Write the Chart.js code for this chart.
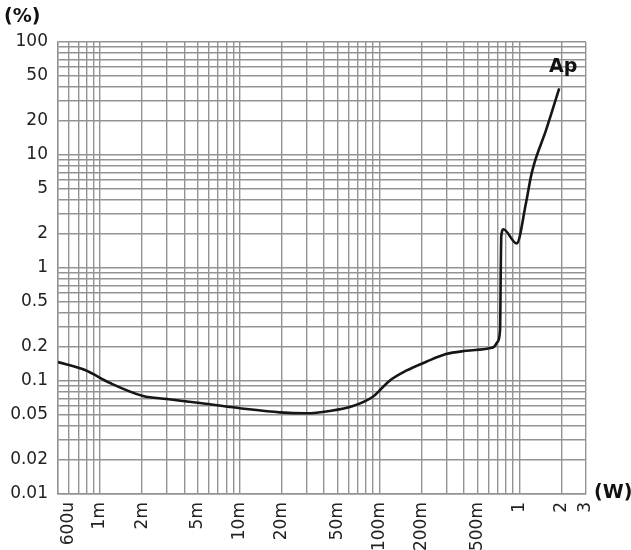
<!DOCTYPE html>
<html>
<head>
<meta charset="utf-8">
<script src="https://cdn.jsdelivr.net/npm/chart.js@4/dist/chart.umd.min.js"></script>
<style>
  html, body { margin: 0; padding: 0; background: #fff; }
  #wrap { width: 631px; height: 550px; position: relative; }
</style>
</head>
<body>
<div id="wrap"><canvas id="thdChart"></canvas></div>
<script>
// --- data ---
const powerW = [0.0005, 0.00078, 0.00118, 0.00203, 0.0030, 0.00518, 0.0112, 0.0193, 0.0299, 0.0439,
    0.0645, 0.0895, 0.118, 0.155, 0.216, 0.299, 0.416, 0.611, 0.663, 0.700, 0.728, 0.738, 0.743,
    0.769, 0.957, 1.116, 1.21, 1.28, 1.553, 1.93];
const thdPct = [0.147, 0.125, 0.096, 0.0737, 0.0693, 0.0639, 0.0565, 0.0528, 0.0518, 0.0543,
    0.0601, 0.0726, 0.1007, 0.1233, 0.148, 0.173, 0.185, 0.195, 0.202, 0.223, 0.283, 1.18, 1.92,
    2.20, 1.65, 3.76, 6.43, 8.45, 16.6, 38.9];

const xTickValues = [0.0006, 0.001, 0.002, 0.005, 0.01, 0.02, 0.05, 0.1, 0.2, 0.5, 1, 2, 3];
const xTickLabels = ['600u', '1m', '2m', '5m', '10m', '20m', '50m', '100m', '200m', '500m', '1', '2', '3'];
const yTickValues = [0.01, 0.02, 0.05, 0.1, 0.2, 0.5, 1, 2, 5, 10, 20, 50, 100];
const yTickLabels = ['0.01', '0.02', '0.05', '0.1', '0.2', '0.5', '1', '2', '5', '10', '20', '50', '100'];
const curveName = 'Ap';

const xMin = 0.0005, xMax = 3;
const yMin = 0.01, yMax = 100;

// grid at every 1..9 multiple inside the range
function logGrid(min, max) {
    const out = [];
    for (let e = Math.floor(Math.log10(min)); e <= Math.ceil(Math.log10(max)); e++) {
        for (let m = 1; m <= 9; m++) {
            const v = Number((m * Math.pow(10, e)).toPrecision(3));
            if (v >= min * 0.9999 && v <= max * 1.0001) out.push(v);
        }
    }
    return out;
}

function labelFor(v, values, labels) {
    const i = values.findIndex(t => Math.abs(v - t) / t < 1e-6);
    return i >= 0 ? labels[i] : '';
}

const gridColor = '#939393';
const textFont = { family: 'DejaVu Sans', size: 17 };

// axis titles + curve name
const textPlugin = {
    id: 'texts',
    afterDraw(chart) {
        const ctx = chart.ctx;
        const xs = chart.scales.x, ys = chart.scales.y;
        ctx.save();
        ctx.fillStyle = '#111';
        ctx.font = 'bold 19px DejaVu Sans';
        ctx.textBaseline = 'middle';
        ctx.textAlign = 'left';
        ctx.fillText('(%)', 4, 17);
        ctx.fillText('(W)', 594, 493);
        // name beside the end of the curve
        const n = powerW.length - 1;
        const px = xs.getPixelForValue(powerW[n]);
        const py = ys.getPixelForValue(thdPct[n]);
        ctx.font = 'bold 19px DejaVu Sans';
        ctx.textAlign = 'center';
        ctx.fillText(curveName, px + 4, py - 21);
        ctx.restore();
    }
};

new Chart(document.getElementById('thdChart'), {
    type: 'line',
    data: {
        datasets: [{
            label: curveName,
            data: powerW.map((w, i) => ({ x: w, y: thdPct[i] })),
            borderColor: '#161616',
            borderWidth: 2.6,
            pointRadius: 0,
            fill: false,
            cubicInterpolationMode: 'monotone'
        }]
    },
    options: {
        responsive: true,
        maintainAspectRatio: false,
        animation: false,
        layout: { padding: { left: 0, right: 45, top: 42, bottom: 0 } },
        plugins: { legend: { display: false }, tooltip: { enabled: false } },
        scales: {
            x: {
                type: 'logarithmic',
                min: xMin,
                max: xMax,
                afterBuildTicks: s => { s.ticks = logGrid(xMin, xMax).map(v => ({ value: v })); },
                afterFit: s => { s.height = 56; },
                grid: { color: gridColor, lineWidth: 1.4, drawTicks: false },
                border: { color: gridColor, width: 1.4 },
                ticks: {
                    autoSkip: false,
                    minRotation: 90,
                    maxRotation: 90,
                    padding: 8,
                    color: '#222',
                    font: textFont,
                    callback: v => labelFor(v, xTickValues, xTickLabels)
                }
            },
            y: {
                type: 'logarithmic',
                min: yMin,
                max: yMax,
                afterBuildTicks: s => { s.ticks = logGrid(yMin, yMax).map(v => ({ value: v })); },
                afterFit: s => { s.width = 58; },
                grid: { color: gridColor, lineWidth: 1.4, drawTicks: false },
                border: { color: gridColor, width: 1.4 },
                ticks: {
                    autoSkip: false,
                    padding: 10,
                    color: '#222',
                    font: textFont,
                    callback: v => labelFor(v, yTickValues, yTickLabels)
                }
            }
        }
    },
    plugins: [textPlugin]
});
</script>
</body>
</html>
